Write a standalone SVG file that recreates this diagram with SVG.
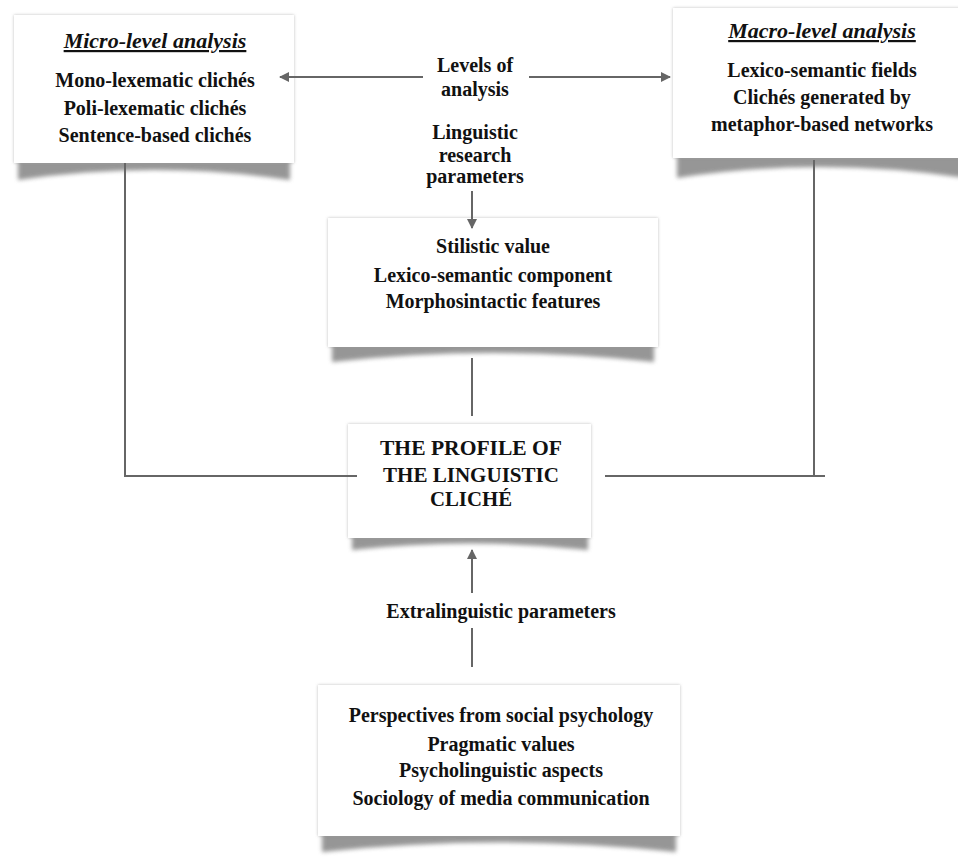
<svg xmlns="http://www.w3.org/2000/svg" width="958" height="859" viewBox="0 0 958 859">
<defs>
<style>
.box{fill:#fff;filter:url(#edge)}
.sh{fill:#6a6a6a;filter:url(#blur);opacity:.7}
.t{font-family:"Liberation Serif","Times New Roman",serif;font-weight:bold;font-size:20px;fill:#111;text-anchor:middle}
.ti{font-style:italic;font-size:22px;text-decoration:underline}
.c{fill:none;stroke:#666;stroke-width:2}
</style>
<filter id="blur" x="-10%" y="-50%" width="120%" height="200%"><feGaussianBlur stdDeviation="2.2"/></filter>
<filter id="edge" x="-5%" y="-5%" width="110%" height="110%"><feDropShadow dx="0" dy="0" stdDeviation="1.8" flood-color="#888" flood-opacity=".55"/></filter>
<marker id="ah" viewBox="0 0 10 10" refX="9" refY="5" markerWidth="5" markerHeight="5" orient="auto-start-reverse" markerUnits="strokeWidth"><path d="M0,0 L10,5 L0,10 Z" fill="#666"/></marker>
</defs>
<rect width="958" height="859" fill="#fff"/>

<g id="micro">
<path class="sh" d="M18,160 L290,160 L290,180 Q154,160 18,180 Z"/>
<rect class="box" x="14" y="15" width="280" height="148"/>
<text class="t ti" x="155" y="48">Micro-level analysis</text>
<text class="t" x="155" y="87">Mono-lexematic clichés</text>
<text class="t" x="155" y="115">Poli-lexematic clichés</text>
<text class="t" x="155" y="142">Sentence-based clichés</text>
</g>

<g id="macro">
<path class="sh" d="M677,155 L965,155 L965,178 Q820,156 677,178 Z"/>
<rect class="box" x="673" y="8" width="300" height="150"/>
<text class="t ti" x="822" y="38">Macro-level analysis</text>
<text class="t" x="822" y="77">Lexico-semantic fields</text>
<text class="t" x="822" y="104">Clichés generated by</text>
<text class="t" x="822" y="131">metaphor-based networks</text>
</g>

<g id="levels">
<text class="t" x="475" y="72">Levels of</text>
<text class="t" x="475" y="96">analysis</text>
</g>

<g id="linguistic">
<text class="t" x="475" y="139">Linguistic</text>
<text class="t" x="475" y="162">research</text>
<text class="t" x="475" y="183">parameters</text>
</g>

<g id="middle">
<path class="sh" d="M332,343 L654,343 L654,362 Q493,344 332,362 Z"/>
<rect class="box" x="328" y="218" width="330" height="129"/>
<text class="t" x="493" y="253">Stilistic value</text>
<text class="t" x="493" y="282">Lexico-semantic component</text>
<text class="t" x="493" y="308">Morphosintactic features</text>
</g>

<g id="profile">
<path class="sh" d="M352,535 L588,535 L588,550 Q470,537 352,550 Z"/>
<rect class="box" x="348" y="424" width="243" height="114"/>
<text class="t" x="471" y="455" font-size="20" textLength="182" lengthAdjust="spacingAndGlyphs">THE PROFILE  OF</text>
<text class="t" x="471" y="482" font-size="20" textLength="176" lengthAdjust="spacingAndGlyphs">THE LINGUISTIC</text>
<text class="t" x="471" y="506" font-size="20" textLength="82" lengthAdjust="spacingAndGlyphs">CLICHÉ</text>
</g>

<g id="extralinguistic">
<text class="t" x="501" y="618">Extralinguistic parameters</text>
</g>

<g id="bottom">
<path class="sh" d="M322,832 L676,832 L676,852 Q499,833 322,852 Z"/>
<rect class="box" x="318" y="685" width="362" height="151"/>
<text class="t" x="501" y="722">Perspectives from social psychology</text>
<text class="t" x="501" y="751">Pragmatic values</text>
<text class="t" x="501" y="777">Psycholinguistic aspects</text>
<text class="t" x="501" y="805">Sociology of media communication</text>
</g>

<g id="connectors">
<line class="c" x1="423" y1="77" x2="280" y2="77" marker-end="url(#ah)"/>
<line class="c" x1="529" y1="77" x2="670" y2="77" marker-end="url(#ah)"/>
<line class="c" x1="472" y1="191" x2="472" y2="228" marker-end="url(#ah)"/>
<line class="c" x1="472" y1="358" x2="472" y2="416"/>
<polyline class="c" points="125,163 125,476 357,476"/>
<polyline class="c" points="814,160 814,476"/>
<line class="c" x1="605" y1="476" x2="825" y2="476"/>
<line class="c" x1="472" y1="593" x2="472" y2="550" marker-end="url(#ah)"/>
<line class="c" x1="472" y1="628" x2="472" y2="667"/>
</g>
</svg>
